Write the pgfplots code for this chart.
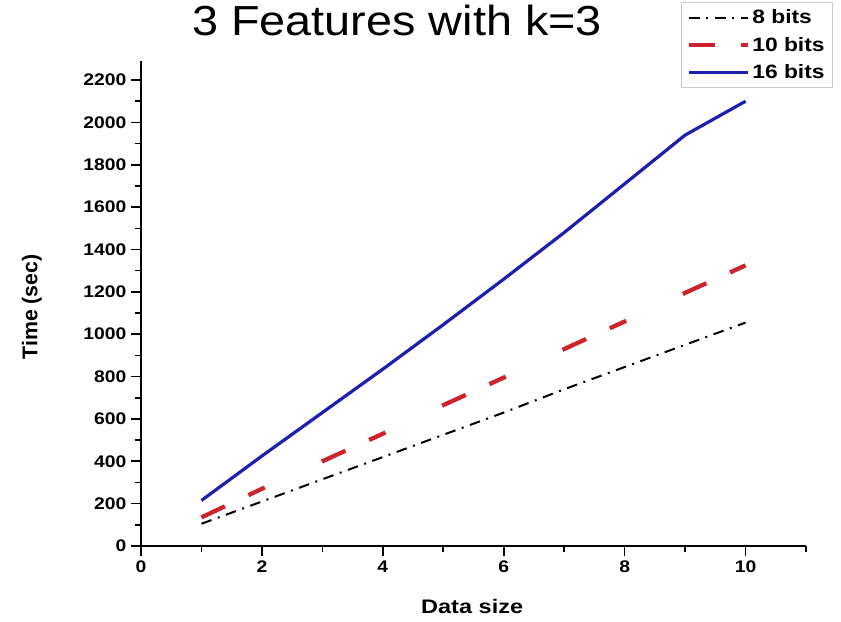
\documentclass[border=0pt]{standalone}
\usepackage{pgfplots}
\pgfplotsset{compat=1.18}
\usepackage{fontspec}
\setmainfont{Liberation Sans}
\newfontfamily\tickfamily{Liberation Sans}[FakeStretch=1.15]
\newfontfamily\labfamily{Liberation Sans}[FakeStretch=1.2]
\newfontfamily\legfamily{Liberation Sans}[FakeStretch=1.18]
\newfontfamily\titfamily{Liberation Sans}[FakeStretch=1.115]
\definecolor{myblue}{RGB}{30,30,175}
\definecolor{myred}{RGB}{205,35,45}
\begin{document}
\begin{tikzpicture}
\path[use as bounding box] (-105.75pt,-56.25pt) rectangle (525pt,409.5pt);
\begin{axis}[
  at={(0,0)}, anchor=south west,
  scale only axis, width=498.75pt, height=363.75pt,
  xmin=0, xmax=11, ymin=0, ymax=2290,
  axis x line=bottom, axis y line=left,
  axis line style={-, line width=1.5pt},
  tick align=outside,
  xtick={0,2,4,6,8,10}, minor xtick={1,3,5,7,9,11},
  ytick={0,200,...,2200}, minor ytick={100,300,...,2100},
  major tick length=7.5pt, minor tick length=4.5pt,
  every tick/.style={line width=1.2pt, black},
  /pgf/number format/assume math mode=true,
  /pgf/number format/1000 sep={},
  ticklabel style={font=\tickfamily\bfseries\fontsize{12.6}{14}\selectfont},
  title={\titfamily\fontsize{31.5}{36}\selectfont 3 Features with k=3},
  title style={at={(axis description cs:0.385,1.037)}, anchor=base},
  xlabel={\labfamily\bfseries\fontsize{14.7}{17}\selectfont Data size},
  xlabel style={at={(axis description cs:0.498,-0.140)}, anchor=base},
  ylabel={\bfseries\fontsize{16}{18}\selectfont Time (sec)},
  ylabel style={at={(axis description cs:-0.156,0.493)}, anchor=base, rotate=0},
  legend image code/.code={\draw[#1] (0pt,0pt) -- (44pt,0pt);},
  legend style={at={(axis description cs:1.0406,1.1216)}, anchor=north east,
    draw=gray!40, line width=0.6pt, fill=white,
    font=\legfamily\bfseries\fontsize{14.5}{16}\selectfont,
    inner xsep=4pt, inner ysep=3.5pt, row sep=4.5pt,
    cells={anchor=west}},
  legend cell align=left,
]
\addplot[black, line width=1.5pt, dash pattern=on 8pt off 5pt on 1.5pt off 5pt]
  coordinates {(1,105) (2,210) (3,315) (4,420) (5,525) (6,630) (7,740) (8,845) (9,950) (10,1055)};
\addlegendentry{8 bits}
\addplot[myred, line width=3.2pt, dash pattern=on 19.5pt off 19.5pt on 13.5pt off 47pt]
  coordinates {(1,135) (2,270) (3,400) (4,530) (5,665) (6,795) (7,930) (8,1060) (9,1195) (10,1325)};
\addlegendentry{10 bits}
\addplot[myblue, line width=2.4pt]
  coordinates {(1,215) (2,425) (3,630) (4,835) (5,1045) (6,1260) (7,1480) (8,1710) (9,1940) (10,2100)};
\addlegendentry{16 bits}
\end{axis}
\end{tikzpicture}
\end{document}
